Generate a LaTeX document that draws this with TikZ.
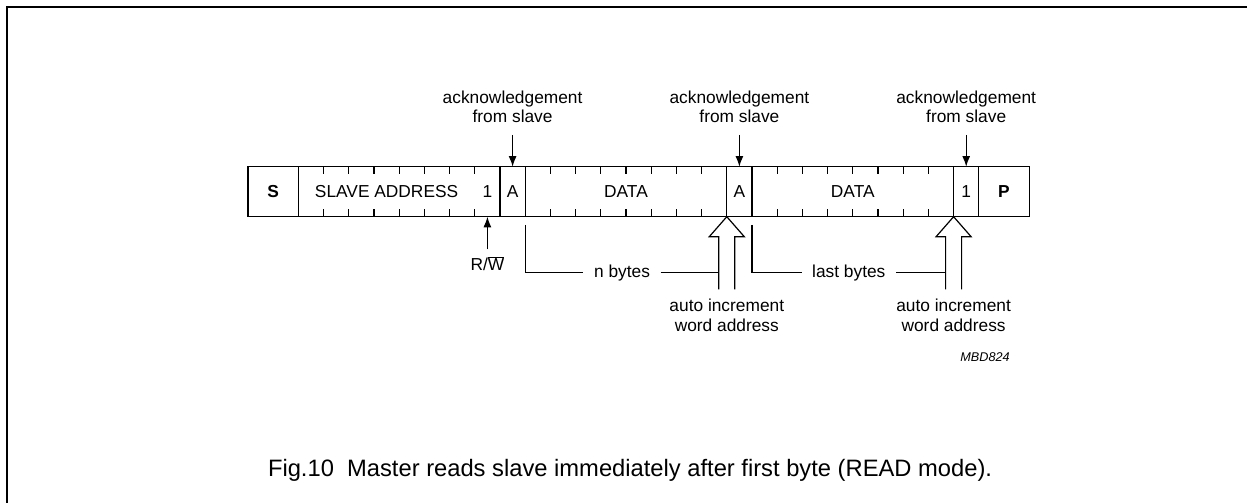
\documentclass[tikz,border=0pt]{standalone}
\usepackage{fontspec}
\setmainfont{Liberation Sans}
\usetikzlibrary{positioning,calc,arrows.meta}

\newcommand{\bitw}{18.9pt}

\begin{document}
\begin{tikzpicture}
    [x=0.75pt, y=-0.75pt, >={Latex[length=8pt,width=6pt]}, line width=0.9pt,
     every node/.style={font=\fontsize{13}{14.5}\selectfont, inner sep=0pt, outer sep=0pt},
     field/.style={draw, minimum height=37.5pt, minimum width=\bitw},
     lbl/.style={align=center}]

    \useasboundingbox (0,0) rectangle (1247,503);
    \draw[line width=1.3pt] (7,503) -- (7,7) -- (1247,7);

    % frame
    \node[field, minimum width=2*\bitw, anchor=north west] (S) at (248,166.7) {\textbf{S}};
    \node[field, draw=none, minimum width=7*\bitw, right=0pt of S] (addr) {SLAVE ADDRESS};
    \node[field, draw=none, right=0pt of addr] (rw) {1};
    \draw (addr.north west) rectangle (rw.south east);
    \node[field, right=0pt of rw] (A1) {A};
    \node[field, minimum width=8*\bitw, right=0pt of A1] (data1) {DATA};
    \node[field, right=0pt of data1] (A2) {A};
    \node[field, minimum width=8*\bitw, right=0pt of A2] (data2) {DATA};
    \node[field, right=0pt of data2] (nack) {1};
    \node[field, minimum width=2*\bitw, right=0pt of nack] (P) {\textbf{P}};

    % bit ticks
    \foreach \f in {addr, data1, data2}
      \foreach \i in {1,...,7} {
        \draw ([xshift=\i*\bitw]\f.north west) -- ++(0,7.5);
        \draw ([xshift=\i*\bitw]\f.south west) -- ++(0,-7.5);
      }

    % acknowledgements
    \foreach \b/\n in {A1/1, A2/2, nack/3} {
      \node[lbl, above=33pt of \b] (ack\n) {acknowledgement\\from slave};
      \draw[->, shorten <=9.2pt] (ack\n) -- (\b);
    }

    % R/W
    \node[lbl, anchor=base] (rwl) at ([yshift=-40.5pt]rw.south) {R/$\overline{\mbox{W}}$};
    \draw[->, shorten <=5pt] (rwl) -- (rw);

    % word address increments
    \foreach \t/\n in {A2/1, nack/2} {
      \begin{scope}[shift={(\t.south west)}]
        \draw (-8,72.6) -- (-8,20) -- (-17.5,20) -- (0,0) -- (17.5,20) -- (8,20) -- (8,72.6);
        \coordinate (inc\n) at (-8,56);
        \coordinate (incb\n) at (0,72.6);
      \end{scope}
      \node[lbl, below=7.5pt of incb\n] (auto\n) {auto increment\\word address};
    }

    % byte counts
    \foreach \d/\n/\txt in {data1/1/n bytes, data2/2/last bytes} {
      \coordinate (bk\n) at ($(\d.south west)+(0,56)$);
      \node[lbl, inner xsep=8pt] (cnt\n) at ($(bk\n)!0.5!(inc\n)$) {\txt};
      \draw ([yshift=-6.2pt]\d.south west) -- (bk\n) -- (cnt\n);
      \draw (cnt\n) -- (inc\n);
    }

    \node[font=\fontsize{9.5}{11}\selectfont\itshape] (code) at (985,357) {MBD824};
    \node[font=\fontsize{17.8}{20}\selectfont, anchor=base west] (cap) at (268,476.7)
      {Fig.10\ \ Master reads slave immediately after first byte (READ mode).};
\end{tikzpicture}
\end{document}
